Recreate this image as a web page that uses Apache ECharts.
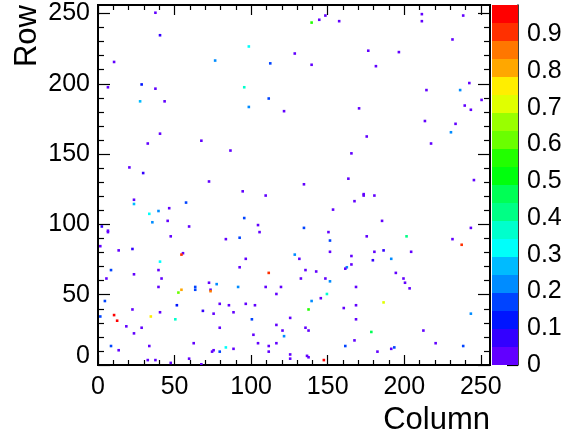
<!DOCTYPE html>
<html>
<head>
<meta charset="utf-8">
<script src="https://cdn.jsdelivr.net/npm/echarts@6/dist/echarts.min.js"></script>
<style>html,body{margin:0;padding:0;background:#fff;}#c{width:577px;height:438px;}</style>
</head>
<body>
<div id="c"></div>
<script>
// ---- data (bin column, bin row, content) ----
const cols = [37,40,10,76,28,6,37,27,43,139,144,148,157,98,128,112,139,95,111,98,121,170,211,238,211,231,176,196,181,242,214,236,250,239,243,213,233,40,67,86,32,20,29,72,23,23,57,46,33,39,45,35,2,6,6,59,47,83,165,163,134,94,109,167,153,95,104,105,134,150,92,151,175,230,217,245,173,173,180,185,243,201,175,231,237,1,13,22,55,54,40,8,23,39,5,41,39,72,63,63,73,73,77,54,52,4,51,79,85,22,68,75,40,10,1,12,34,50,18,28,23,79,62,33,8,13,83,75,74,79,32,37,47,59,67,128,131,96,151,165,92,111,135,142,165,162,161,132,148,151,91,109,119,168,116,149,145,139,96,102,137,160,168,88,100,125,168,116,135,137,120,101,121,167,104,116,111,111,88,161,125,125,136,137,147,180,186,204,179,191,194,199,200,203,186,243,212,178,220,238,193,191,182];
const rows = [250,234,215,216,199,197,196,187,187,243,245,248,244,226,221,214,213,197,189,183,180,182,249,248,244,231,223,222,212,200,195,195,188,184,181,173,171,164,159,152,157,140,136,130,117,114,115,111,107,109,102,101,98,95,94,98,91,89,150,132,128,123,120,116,110,104,99,94,97,94,90,88,162,165,157,131,121,120,120,102,97,91,91,89,85,84,81,82,79,78,73,67,64,67,61,61,55,58,55,53,53,52,57,53,51,45,42,43,42,39,38,36,37,35,34,31,34,32,27,26,22,26,15,13,13,10,12,10,9,9,3,3,1,4,0,78,75,75,80,77,69,65,67,66,71,69,68,61,61,59,55,55,55,55,50,50,47,45,43,42,39,40,42,37,32,33,32,28,26,24,24,21,20,17,15,15,13,9,11,13,7,4,6,5,3,80,81,80,74,75,65,61,58,54,44,36,24,23,15,13,12,11,9];
const vals = [0.02,0.07,0.02,0.22,0.12,0.02,0.02,0.27,0.02,0.56,0.02,0.02,0.02,0.32,0.02,0.17,0.02,0.35,0.17,0.2,0.02,0.02,0.02,0.02,0.02,0.02,0.02,0.02,0.02,0.02,0.02,0.2,0.02,0.02,0.02,0.02,0.02,0.02,0.02,0.02,0.02,0.02,0.07,0.02,0.02,0.26,0.17,0.02,0.32,0.24,0.02,0.24,0.07,0.02,0.02,0.02,0.02,0.02,0.02,0.02,0.02,0.02,0.02,0.02,0.02,0.17,0.02,0.02,0.17,0.02,0.17,0.19,0.02,0.23,0.02,0.02,0.02,0.02,0.02,0.02,0.02,0.42,0.02,0.02,0.92,0.02,0.02,0.07,0.02,0.92,0.32,0.17,0.02,0.02,0.02,0.02,0.02,0.02,0.17,0.17,0.02,0.85,0.23,0.81,0.61,0.17,0.1,0.02,0.02,0.02,0.07,0.02,0.02,0.97,0.17,0.97,0.76,0.37,0.02,0.02,0.02,0.02,0.02,0.02,0.17,0.02,0.32,0.02,0.02,0.17,0.02,0.02,0.02,0.02,0.02,0.23,0.02,0.02,0.02,0.02,0.02,0.92,0.02,0.02,0.02,0.2,0.02,0.02,0.02,0.23,0.23,0.02,0.02,0.02,0.02,0.36,0.02,0.2,0.02,0.02,0.54,0.02,0.02,0.02,0.17,0.02,0.02,0.02,0.02,0.02,0.02,0.02,0.2,0.02,0.02,0.02,0.02,0.02,0.02,0.16,0.02,0.02,0.02,0.02,0.97,0.02,0.07,0.02,0.09,0.23,0.02,0.02,0.02,0.02,0.71,0.23,0.02,0.48,0.02,0.16,0.18,0.02,0.02];

const xMajor = [0,50,100,150,200,250];
const xMinor = [10,20,30,40,60,70,80,90,110,120,130,140,160,170,180,190,210,220,230,240];
const yMajor = [0,50,100,150,200,250];
const yMinor = xMinor;
const zTicks = [0,0.1,0.2,0.3,0.4,0.5,0.6,0.7,0.8,0.9];
const AXMAX = 256;
const ZMAX = 0.98;
const palette = ['#6200ff','#3300ff','#0015ff','#0044ff','#008cff','#00bbff','#00fffa','#00ffcc','#00ff85','#00ff55',
                 '#00ff0d','#22ff00','#6aff00','#99ff00','#e0ff00','#ffee00','#ffa700','#ff7700','#ff3000','#ff0000'];

const FONT = 'Liberation Sans, Arial, Helvetica, sans-serif';
const LBL = 25;

function colorOf(v){
  const i = Math.min(palette.length-1, Math.floor(v/ZMAX*palette.length));
  return palette[i];
}
const cells = cols.map((c,i)=>[c, rows[i], vals[i]]);
const bands = palette.map((col,i)=>[i*ZMAX/palette.length, (i+1)*ZMAX/palette.length, i]);

function tickAxis(pos, len, vals, showLabel){
  return {
    type:'value', min:0, max:AXMAX, position:pos, gridIndex:0,
    axisLine:{show:false, onZero:false},
    splitLine:{show:false},
    axisTick:{show:true, inside:true, length:len, customValues:vals, lineStyle:{color:'#000', width:1.2}},
    axisLabel:{show:showLabel, customValues:vals, fontFamily:FONT, fontSize:LBL, color:'#000', margin:10}
  };
}

const xAxes = [
  tickAxis('bottom',10,xMajor,true),
  tickAxis('bottom',5,xMinor,false),
  tickAxis('top',10,xMajor,false),
  tickAxis('top',5,xMinor,false),
  {type:'value', gridIndex:1, min:0, max:1, show:false}
];
const yAxes = [
  tickAxis('left',12,yMajor,true),
  tickAxis('left',6,yMinor,false),
  tickAxis('right',12,yMajor,false),
  tickAxis('right',6,yMinor,false),
  {type:'value', gridIndex:1, min:0, max:ZMAX, position:'right',
   axisLine:{show:true, onZero:false, lineStyle:{color:'#000', width:1.5}},
   splitLine:{show:false},
   axisTick:{show:true, inside:true, length:11, customValues:zTicks, lineStyle:{color:'#000', width:1.2}},
   axisLabel:{show:true, customValues:zTicks, fontFamily:FONT, fontSize:LBL, color:'#000', margin:9,
              formatter:v=>String(Math.round(v*10)/10)}}
];
yAxes[0].axisLabel.margin = 8;
yAxes[0].axisLabel.formatter = v => v===0 ? '{z|0}' : String(v);
yAxes[0].axisLabel.rich = {z:{fontFamily:FONT, fontSize:LBL, color:'#000', padding:[0,0,18,0]}};

const chart = echarts.init(document.getElementById('c'), null, {renderer:'canvas'});
chart.setOption({
  animation:false,
  backgroundColor:'#fff',
  grid:[
    {left:98, top:5, width:392, height:360, show:true, borderColor:'#000', borderWidth:2, backgroundColor:'transparent'},
    {left:492, top:5, width:26, height:360, show:false}
  ],
  xAxis:xAxes,
  yAxis:yAxes,
  series:[
    {type:'custom', xAxisIndex:0, yAxisIndex:0, data:cells, clip:true,
     renderItem:(params, api)=>{
       const c = api.value(0), r = api.value(1);
       const p0 = api.coord([c, r+1]), p1 = api.coord([c+1, r]);
       const w = Math.max(p1[0]-p0[0], 2.6), h = Math.max(p1[1]-p0[1], 2.6);
       const cx = (p0[0]+p1[0])/2, cy = (p0[1]+p1[1])/2;
       return {type:'rect', shape:{x:cx-w/2, y:cy-h/2, width:w, height:h}, style:{fill:colorOf(api.value(2))}};
     }},
    {type:'custom', xAxisIndex:4, yAxisIndex:4, data:bands,
     renderItem:(params, api)=>{
       const lo = api.value(0), hi = api.value(1);
       const p0 = api.coord([0, hi]), p1 = api.coord([1, lo]);
       return {type:'rect', shape:{x:p0[0], y:p0[1], width:p1[0]-p0[0], height:p1[1]-p0[1]},
               style:{fill:palette[api.value(2)]}};
     }}
  ],
  graphic:[
    {type:'text', x:27, y:5, rotation:Math.PI/2,
     style:{text:'Row', font:'31px '+FONT, fill:'#000', align:'right', verticalAlign:'middle'}},
    {type:'text', x:490, y:420,
     style:{text:'Column', font:'31px '+FONT, fill:'#000', align:'right', verticalAlign:'middle'}}
  ]
});
</script>
</body>
</html>
